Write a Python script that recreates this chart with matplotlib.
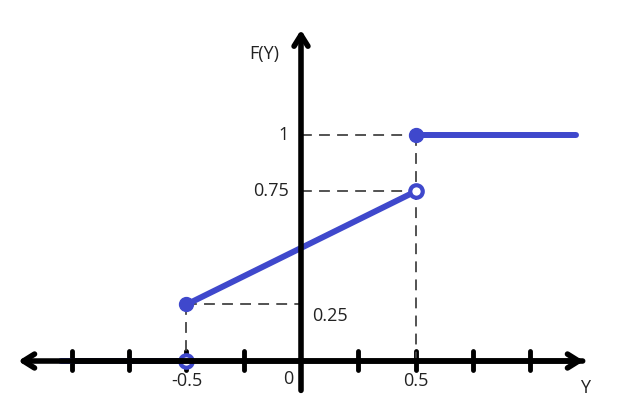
#Program to draw a CDF step/ramp chart, hand-drawn style
import matplotlib.pyplot as plt

# data
y_left = [-1.05, -0.5]          # flat part at F=0
f_left = [0, 0]
y_mid = [-0.5, 0.5]             # ramp part
f_mid = [0.25, 0.75]
y_right = [0.5, 1.2]            # flat part at F=1
f_right = [1, 1]
open_pts_y = [-0.5, 0.5]
open_pts_f = [0, 0.75]
closed_pts_y = [-0.5, 0.5]
closed_pts_f = [0.25, 1]
x_ticks = [-1.0, -0.75, -0.5, -0.25, 0.25, 0.5, 0.75, 1.0]
x_labels = {-0.5: '-0.5', 0.5: '0.5'}
f_labels = {1: '1', 0.75: '0.75'}

blue = '#3f48cc'
plt.rcParams['font.family'] = ['Open Sans', 'DejaVu Sans']

fig = plt.figure(figsize=(6.41, 4.13), dpi=100)
ax = fig.add_axes([0, 0, 1, 1])
ax.set_xlim(-1.3144, 1.4847)
ax.set_ylim(-0.230, 1.597)
ax.axis('off')

#axes with arrows
arrow = dict(arrowstyle='->,head_length=0.8,head_width=0.5', lw=4, color='black',
             shrinkA=0, shrinkB=0, capstyle='round')
ax.annotate('', xy=(-1.235, 0), xytext=(1.23, 0), arrowprops=arrow)
ax.annotate('', xy=(1.235, 0), xytext=(-1.0, 0), arrowprops=arrow)
ax.annotate('', xy=(0, 1.465), xytext=(0, -0.13), arrowprops=arrow)

#tick marks
for t in x_ticks:
    ax.plot([t, t], [-0.04, 0.045], color='black', lw=3.5, solid_capstyle='round')

#dashed guide lines
dash = dict(color='#444444', lw=1.3, linestyle=(0, (6, 4)))
ax.plot([0, 0.5], [1, 1], **dash)
ax.plot([0, 0.5], [0.75, 0.75], **dash)
ax.plot([-0.5, 0], [0.25, 0.25], **dash)
ax.plot([0.5, 0.5], [1, 0], **dash)
ax.plot([-0.5, -0.5], [0.25, 0], **dash)

#CDF pieces
ax.plot(y_left, f_left, color=blue, lw=4.3, solid_capstyle='round')
ax.plot(y_mid, f_mid, color=blue, lw=4.3, solid_capstyle='round')
ax.plot(y_right, f_right, color=blue, lw=4.3, solid_capstyle='round')
ax.plot(closed_pts_y, closed_pts_f, 'o', color=blue, ms=10, ls='none')
ax.plot(open_pts_y, open_pts_f, 'o', mfc='white', mec=blue, mew=3, ms=9, ls='none')

#labels
txt = dict(fontsize=13, color='#222222')
for v, s in x_labels.items():
    ax.text(v, -0.09, s, ha='center', va='center', **txt)
ax.text(-0.055, -0.08, '0', ha='center', va='center', **txt)
for v, s in f_labels.items():
    ax.text(-0.055, v, s, ha='right', va='center', **txt)
ax.text(0.05, 0.2, '0.25', ha='left', va='center', **txt)
ax.text(-0.16, 1.36, 'F(Y)', ha='center', va='center', **txt)
ax.text(1.24, -0.12, 'Y', ha='center', va='center', **txt)

plt.savefig('out.png', dpi=100)
